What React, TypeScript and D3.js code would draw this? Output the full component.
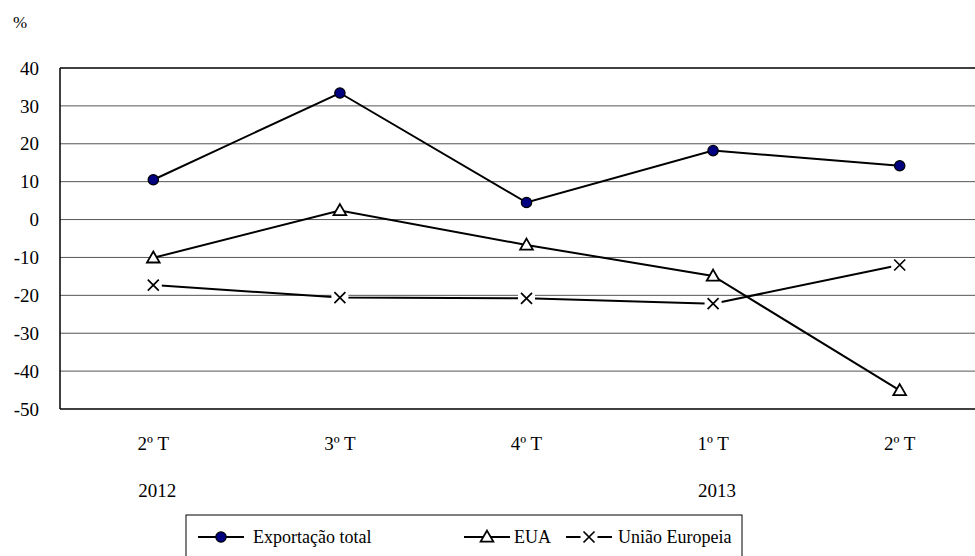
import React from "react";
import * as d3 from "d3";

const quarters = ["2º T", "3º T", "4º T", "1º T", "2º T"];
const years = ["2012", "", "", "2013", ""];
const exportacaoTotal = [10.5, 33.4, 4.5, 18.2, 14.2];
const eua = [-10.1, 2.4, -6.7, -14.9, -45.1];
const uniaoEuropeia = [-17.3, -20.6, -20.8, -22.2, -12.0];
const yTicks = [40, 30, 20, 10, 0, -10, -20, -30, -40, -50];

const W = 975;
const H = 556;
const font = "'Liberation Serif', 'Times New Roman', Times, serif";

const App: React.FC = () => {
  const left = 60;
  const top = 68;
  const bottom = 409;

  const x = d3
    .scaleBand<number>()
    .domain(d3.range(quarters.length))
    .range([left, 993])
    .paddingInner(0)
    .paddingOuter(0);
  const cx = (i: number) => (x(i) as number) + x.bandwidth() / 2;

  const y = d3.scaleLinear().domain([-50, 40]).range([bottom, top]);

  const line = d3
    .line<number>()
    .x((_, i) => cx(i))
    .y((d) => y(d));

  const tri = d3.symbol().type(d3.symbolTriangle).size(70)() as string;
  const s = 5.5;
  const crossPath = `M${-s},${-s}L${s},${s}M${-s},${s}L${s},${-s}`;

  const Circle = ({ px, py }: { px: number; py: number }) => (
    <circle cx={px} cy={py} r={5.2} fill="#000080" stroke="#000" strokeWidth={1.2} />
  );
  const Tri = ({ px, py }: { px: number; py: number }) => (
    <path d={tri} transform={`translate(${px},${py + 1})`} fill="#fff" stroke="#000" strokeWidth={1.8} />
  );
  const Cross = ({ px, py }: { px: number; py: number }) => (
    <g transform={`translate(${px},${py})`}>
      <rect x={-s - 3} y={-s - 1} width={2 * s + 6} height={2 * s + 2} fill="#fff" />
      <path d={crossPath} fill="none" stroke="#000" strokeWidth={1.7} />
    </g>
  );

  const legendItems = [
    { label: "Exportação total", lx: 198, tx: 253, M: Circle },
    { label: "EUA", lx: 464, tx: 514, M: Tri },
    { label: "União Europeia", lx: 566, tx: 618, M: Cross },
  ];

  const ts: React.CSSProperties = { fontFamily: font };

  return (
    <svg
      width={W}
      height={H}
      style={{ position: "absolute", left: 0, top: 0, background: "#fff" }}
    >
      <text x={13} y={28} fontSize={17} style={ts}>
        %
      </text>

      {/* gridlines */}
      {yTicks.map((t) => (
        <line
          key={t}
          x1={left}
          x2={W}
          y1={y(t)}
          y2={y(t)}
          stroke={t === 40 || t === -50 ? "#000" : "#555"}
          strokeWidth={t === 40 || t === -50 ? 1.5 : 1}
        />
      ))}
      <line x1={left} x2={left} y1={top} y2={bottom} stroke="#000" strokeWidth={1.5} />

      {/* y labels */}
      {yTicks.map((t) => (
        <text key={t} x={39} y={y(t)} dy="0.35em" textAnchor="end" fontSize={19} style={ts}>
          {t}
        </text>
      ))}

      {/* x labels */}
      {quarters.map((q, i) => (
        <text key={i} x={cx(i)} y={450} textAnchor="middle" fontSize={19} style={ts}>
          {q}
        </text>
      ))}
      {years.map((yr, i) =>
        yr ? (
          <text key={i} x={cx(i) + 4} y={497} textAnchor="middle" fontSize={19} style={ts}>
            {yr}
          </text>
        ) : null
      )}

      {/* series */}
      <path d={line(uniaoEuropeia) as string} fill="none" stroke="#000" strokeWidth={2} />
      <path d={line(eua) as string} fill="none" stroke="#000" strokeWidth={2} />
      <path d={line(exportacaoTotal) as string} fill="none" stroke="#000" strokeWidth={2} />
      {uniaoEuropeia.map((v, i) => (
        <Cross key={i} px={cx(i)} py={y(v)} />
      ))}
      {eua.map((v, i) => (
        <Tri key={i} px={cx(i)} py={y(v)} />
      ))}
      {exportacaoTotal.map((v, i) => (
        <Circle key={i} px={cx(i)} py={y(v)} />
      ))}

      {/* legend */}
      <rect x={186} y={515} width={556} height={60} fill="#fff" stroke="#000" strokeWidth={1} />
      {legendItems.map(({ label, lx, tx, M }) => (
        <g key={label}>
          <line x1={lx} x2={lx + 46} y1={537} y2={537} stroke="#000" strokeWidth={2} />
          <M px={lx + 23} py={537} />
          <text x={tx} y={537} dy="0.35em" fontSize={18} style={ts}>
            {label}
          </text>
        </g>
      ))}
    </svg>
  );
};

export default App;
